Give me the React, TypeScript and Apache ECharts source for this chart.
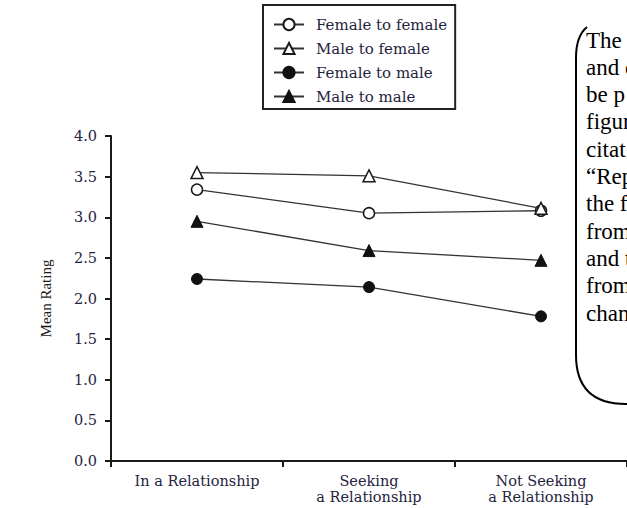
import React, { useEffect, useRef } from "react";
import * as echarts from "echarts";

const categories = ["In a Relationship", "Seeking\na Relationship", "Not Seeking\na Relationship"];
const seriesNames = ["Female to female", "Male to female", "Female to male", "Male to male"];
const femaleToFemale = [3.34, 3.05, 3.08];
const maleToFemale = [3.55, 3.51, 3.11];
const femaleToMale = [2.24, 2.14, 1.78];
const maleToMale = [2.95, 2.59, 2.47];
const yMin = 0;
const yMax = 4;
const yStep = 0.5;
const yAxisTitle = "Mean Rating";
const noteLines = ["The", "and c", "be p", "figur", "citat", "\u201cRep", "the f", "from", "and t", "from", "chan"];

const BOX_PATH = "M587 27 Q576 36 576 58 L576 355 Q576 404 626 404 L640 404";
echarts.graphic.registerShape("noteBox", echarts.graphic.extendPath(BOX_PATH, {}));

const labelFont = "DejaVu Serif";

export default function App() {
  const ref = useRef<HTMLDivElement>(null);
  useEffect(() => {
    if (!ref.current) return;
    const chart = echarts.init(ref.current, null, { renderer: "svg" });
    const openStyle = { color: "#ffffff", borderColor: "#1a1a1a", borderWidth: 1.5 };
    const filledStyle = { color: "#111111", borderColor: "#111111", borderWidth: 1 };
    const lineStyle = { color: "#333333", width: 1.3 };
    const mk = (name: string, data: number[], symbol: string, size: number, open: boolean) => ({
      name,
      type: "line",
      data,
      symbol,
      symbolSize: size,
      showAllSymbol: true,
      lineStyle,
      itemStyle: open ? openStyle : filledStyle,
      emphasis: { disabled: true },
    });
    chart.setOption({
      animation: false,
      backgroundColor: "#ffffff",
      grid: { left: 111, right: -3, top: 136, bottom: 47, containLabel: false },
      legend: {
        data: seriesNames,
        orient: "vertical",
        left: 263,
        top: 5,
        itemWidth: 30,
        itemHeight: 14,
        itemGap: 9,
        padding: [12, 8, 5, 10],
        borderColor: "#222",
        borderWidth: 2,
        textStyle: { fontFamily: labelFont, fontSize: 15, color: "#1f2340", padding: [0, 0, 0, 7] },
        selectedMode: false,
      },
      xAxis: {
        type: "category",
        data: categories,
        boundaryGap: true,
        axisLine: { lineStyle: { color: "#1a1a1a", width: 2 } },
        axisTick: { show: true, length: 6, interval: 0, lineStyle: { color: "#1a1a1a", width: 2 } },
        axisLabel: {
          margin: 12,
          interval: 0,
          fontFamily: labelFont,
          fontSize: 14.5,
          lineHeight: 16,
          color: "#1f2340",
        },
      },
      yAxis: {
        type: "value",
        min: yMin,
        max: yMax,
        interval: yStep,
        name: yAxisTitle,
        nameLocation: "middle",
        nameGap: 58,
        nameRotate: 90,
        nameTextStyle: { fontFamily: "Liberation Serif", fontSize: 15, color: "#1a1a1a" },
        axisLine: { show: true, lineStyle: { color: "#1a1a1a", width: 2 } },
        axisTick: { show: true, length: 6, lineStyle: { color: "#1a1a1a", width: 2 } },
        splitLine: { show: false },
        axisLabel: {
          margin: 14,
          fontFamily: labelFont,
          fontSize: 14.5,
          color: "#1f2340",
          formatter: (v: number) => v.toFixed(1),
        },
      },
      series: [
        mk(seriesNames[0], femaleToFemale, "circle", 11, true),
        mk(seriesNames[1], maleToFemale, "triangle", 12, true),
        mk(seriesNames[2], femaleToMale, "circle", 11, false),
        mk(seriesNames[3], maleToMale, "triangle", 12, false),
      ],
      graphic: [
        {
          type: "noteBox",
          x: 0,
          y: 0,
          silent: true,
          style: { fill: "none", stroke: "#000", lineWidth: 2 },
        },
        ...noteLines.map((t, i) => ({
          type: "text",
          x: 586,
          y: 40 + i * 27.3,
          silent: true,
          style: {
            text: t,
            fontFamily: "Liberation Serif",
            fontSize: 23,
            fill: "#000",
            verticalAlign: "middle",
          },
        })),
      ],
    });
    return () => chart.dispose();
  }, []);
  return (
    <div
      ref={ref}
      style={{ position: "fixed", left: 0, top: 0, width: 627, height: 508, background: "#fff" }}
    />
  );
}
